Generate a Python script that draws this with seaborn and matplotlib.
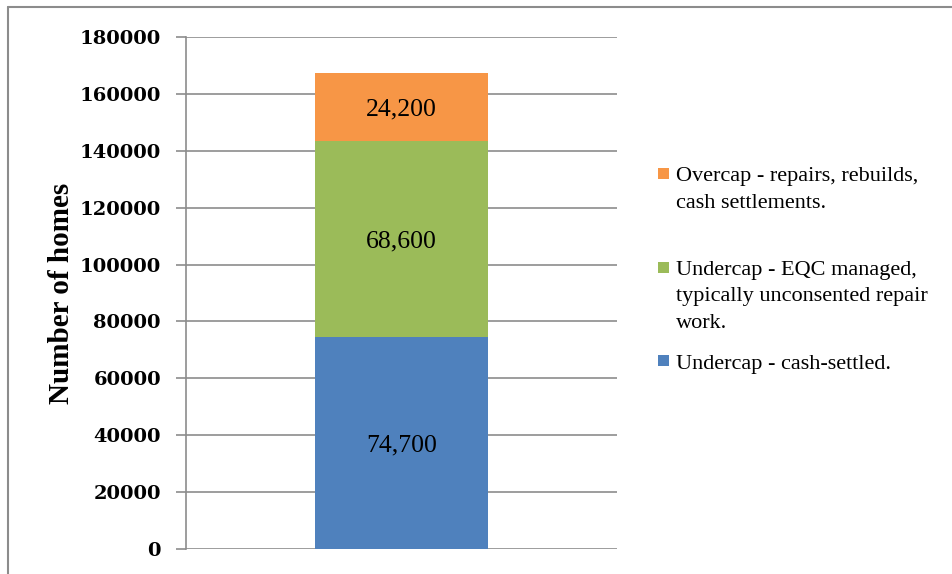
import matplotlib
matplotlib.use("Agg")
import matplotlib.pyplot as plt
from matplotlib.patches import Rectangle
from matplotlib.lines import Line2D
import seaborn as sns
import pandas as pd

categories = ["Homes"]
series_names = ["Undercap - cash-settled.",
                "Undercap - EQC managed,\ntypically unconsented repair\nwork.",
                "Overcap - repairs, rebuilds,\ncash settlements."]
cash_settled = [74700]
eqc_managed = [68600]
overcap = [24200]
value_labels = ["74,700", "68,600", "24,200"]
yticks = [0, 20000, 40000, 60000, 80000, 100000, 120000, 140000, 160000, 180000]
colors = ["#4F81BD", "#9BBB59", "#F79646"]

sns.set_theme(style="white")
plt.rcParams['font.family'] = ['Liberation Serif', 'DejaVu Serif']
plt.rcParams['text.color'] = 'black'
plt.rcParams['axes.labelcolor'] = 'black'
plt.rcParams['ytick.labelcolor'] = 'black'

fig = plt.figure(figsize=(9.52, 5.74), dpi=100)
ax = fig.add_axes([186/952, 25/574, 431/952, 512/574])

series = [cash_settled, eqc_managed, overcap]
bottoms = [0]
for s in series[:-1]:
    bottoms.append(bottoms[-1] + s[0])

for vals, b, c in zip(series, bottoms, colors):
    df = pd.DataFrame({"cat": categories, "val": vals})
    sns.barplot(data=df, x="cat", y="val", color=c, bottom=b, width=0.4,
                ax=ax, saturation=1, zorder=3, linewidth=0)

for vals, b, lab in zip(series, bottoms, value_labels):
    ax.text(0, b + vals[0] / 2, lab, ha="center", va="center_baseline",
            fontsize=18.5, color="black", zorder=4)

ax.set_xlim(-0.5, 0.5)
ax.set_ylim(0, 180000)
ax.set_yticks(yticks)
ax.set_yticklabels([str(t) for t in yticks], fontsize=14, fontweight="bold",
                   family=["DejaVu Serif"], color="black")
ax.set_xticks([])
ax.set_xlabel("")
ax.set_ylabel("Number of homes", fontsize=21, fontweight="bold", labelpad=3,
              color="black")
ax.yaxis.grid(True, color="#8C8C8C", linewidth=1.2, zorder=0)
ax.set_axisbelow(True)
for sp in ["top", "right", "bottom"]:
    ax.spines[sp].set_visible(False)
ax.spines["left"].set_color("#8C8C8C")
ax.spines["left"].set_linewidth(1.2)
ax.tick_params(axis="y", which="major", left=True, length=7, width=1.2,
               color="#8C8C8C", pad=11, direction="out")

# Legend (manual placement to match layout)
leg_items = [(series_names[2], colors[2], 173.5),
             (series_names[1], colors[1], 267.5),
             (series_names[0], colors[0], 360.5)]
for label, c, ypx in leg_items:
    fig.patches.append(Rectangle((658 / 952, 1 - (ypx + 5.5) / 574), 11 / 952, 11 / 574,
                                 transform=fig.transFigure, facecolor=c,
                                 edgecolor="none"))
    for i, line in enumerate(label.split("\n")):
        fig.text(676 / 952, 1 - (ypx + 8 + 26 * i) / 574, line, fontsize=16,
                 va="baseline", ha="left", color="black")

# Chart-area border (left and top edges visible)
fig.lines.append(Line2D([8 / 952, 8 / 952], [0, 1 - 7 / 574], transform=fig.transFigure,
                        color="#8C8C8C", linewidth=1.5))
fig.lines.append(Line2D([8 / 952, 1], [1 - 7 / 574, 1 - 7 / 574], transform=fig.transFigure,
                        color="#8C8C8C", linewidth=1.5))

fig.savefig("out.png", dpi=100)
